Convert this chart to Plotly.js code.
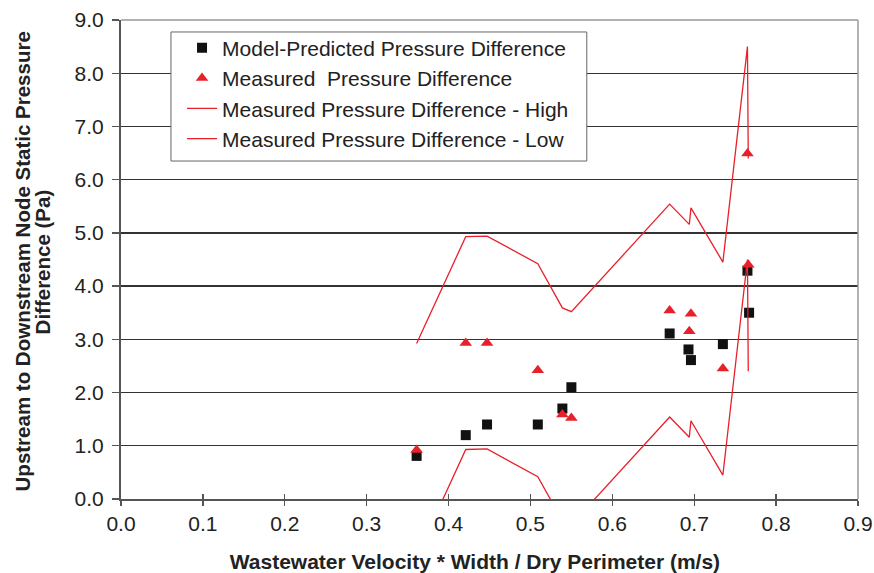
<!DOCTYPE html>
<html>
<head>
<meta charset="utf-8">
<script src="https://cdn.plot.ly/plotly-3.0.1.min.js"></script>
<style>html,body{margin:0;padding:0;background:#fff;}#chart{width:874px;height:573px;}</style>
</head>
<body>
<div id="chart"></div>
<script>
// Model-predicted pressure difference (Pa)
const modelX = [0.361, 0.421, 0.447, 0.509, 0.539, 0.550, 0.670, 0.693, 0.696, 0.735, 0.765, 0.767];
const modelY = [0.81, 1.20, 1.40, 1.40, 1.70, 2.10, 3.11, 2.81, 2.61, 2.91, 4.29, 3.50];

// Measured pressure difference (Pa)
const measX = [0.361, 0.421, 0.447, 0.509, 0.539, 0.550, 0.670, 0.694, 0.696, 0.735, 0.765, 0.766];
const measY = [0.92, 2.93, 2.93, 2.42, 1.59, 1.52, 3.54, 3.15, 3.48, 2.45, 6.49, 4.40];

// High / low bounds of measured pressure difference (Pa)
const highY = [2.92, 4.93, 4.94, 4.42, 3.59, 3.52, 5.54, 5.16, 5.47, 4.45, 8.50, 6.40];
const lowY  = [-1.08, 0.93, 0.94, 0.42, -0.41, -0.48, 1.54, 1.16, 1.47, 0.45, 4.50, 2.40];

const xTicks = [0, 0.1, 0.2, 0.3, 0.4, 0.5, 0.6, 0.7, 0.8, 0.9];
const yTicks = [0, 1, 2, 3, 4, 5, 6, 7, 8, 9];
const yTitleLines = ['Upstream to Downstream Node Static Pressure', 'Difference (Pa)'];

const RED = '#e8202a';
const FONT = 'Liberation Sans, Arial, sans-serif';

const traces = [
  {x: modelX, y: modelY, mode: 'markers', type: 'scatter', name: 'Model-Predicted Pressure Difference',
   marker: {symbol: 'square', size: 10, color: '#111'}, legendgroup: 'a'},
  {x: measX, y: measY, mode: 'markers', type: 'scatter', name: 'Measured  Pressure Difference',
   marker: {symbol: 'triangle-up', size: 11, color: RED}, legendgroup: 'b'},
  {x: measX, y: highY, mode: 'lines', type: 'scatter', name: 'Measured Pressure Difference - High',
   line: {color: RED, width: 1.3}, legendgroup: 'c'},
  {x: measX, y: lowY, mode: 'lines', type: 'scatter', name: 'Measured Pressure Difference - Low',
   line: {color: RED, width: 1.3}, legendgroup: 'd'},
  {x: [null], y: [null], xaxis: 'x2', type: 'scatter', mode: 'markers', showlegend: false, hoverinfo: 'skip'}
];

const layout = {
  width: 874, height: 573,
  margin: {l: 121, r: 16, t: 20, b: 74},
  paper_bgcolor: '#fff', plot_bgcolor: '#fff',
  font: {family: FONT, size: 21, color: '#222'},
  showlegend: true,
  legend: {
    x: 0.0828, y: 0.984, xanchor: 'left', yanchor: 'top',
    bgcolor: 'rgba(0,0,0,0)', borderwidth: 0,
    font: {family: FONT, size: 21, color: '#222'},
    tracegroupgap: 13, traceorder: 'normal'
  },
  xaxis: {
    range: [0, 0.9], tickvals: xTicks, ticktext: xTicks.map(v => v.toFixed(1)),
    showgrid: false, zeroline: false, showline: true, linecolor: '#555', linewidth: 2,
    ticks: 'outside', ticklen: 5, tickcolor: '#555', tickwidth: 1.3,
    tickfont: {family: FONT, size: 21, color: '#222'},
    title: {text: 'Wastewater Velocity * Width / Dry Perimeter (m/s)&nbsp;&nbsp;&nbsp;&nbsp;&nbsp;', standoff: 20,
            font: {family: FONT, size: 21, color: '#222', weight: 'bold'}}
  },
  xaxis2: {
    overlaying: 'x', range: [0, 0.9], tickvals: xTicks, showticklabels: false,
    showgrid: false, zeroline: false, showline: false,
    ticks: 'inside', ticklen: 5, tickcolor: '#555', tickwidth: 1.3
  },
  yaxis: {
    range: [0, 9], tickvals: yTicks, ticktext: yTicks.map(v => v.toFixed(1)),
    showgrid: true, gridcolor: '#333', gridwidth: 1.3,
    zeroline: false, showline: true, linecolor: '#555', linewidth: 2,
    ticks: 'outside', ticklen: 7, tickcolor: '#555', tickwidth: 1.3,
    ticklabelstandoff: 4,
    tickfont: {family: FONT, size: 21, color: '#222'}
  },
  annotations: [
    {text: yTitleLines[0], xref: 'paper', yref: 'paper', x: -0.1343, y: 0.496, xanchor: 'center', yanchor: 'middle',
     textangle: -90, showarrow: false, font: {family: FONT, size: 20.5, color: '#222', weight: 'bold'}},
    {text: yTitleLines[1], xref: 'paper', yref: 'paper', x: -0.1072, y: 0.496, xanchor: 'center', yanchor: 'middle',
     textangle: -90, showarrow: false, font: {family: FONT, size: 20.5, color: '#222', weight: 'bold'}}
  ],
  shapes: [
    {type: 'line', xref: 'paper', yref: 'paper', x0: 0, x1: 1, y0: 1, y1: 1, line: {color: '#999', width: 1.5}, layer: 'above'},
    {type: 'line', xref: 'paper', yref: 'paper', x0: 1, x1: 1, y0: 0, y1: 1, line: {color: '#999', width: 1.5}, layer: 'above'},
    // legend frame
    {type: 'rect', xref: 'paper', yref: 'paper', x0: 0.0678, x1: 0.632, y0: 0.7056, y1: 0.975,
     fillcolor: '#fff', line: {color: '#666', width: 1}, layer: 'above'}
  ]
};

Plotly.newPlot('chart', traces, layout, {displayModeBar: false, staticPlot: true});
</script>
</body>
</html>
